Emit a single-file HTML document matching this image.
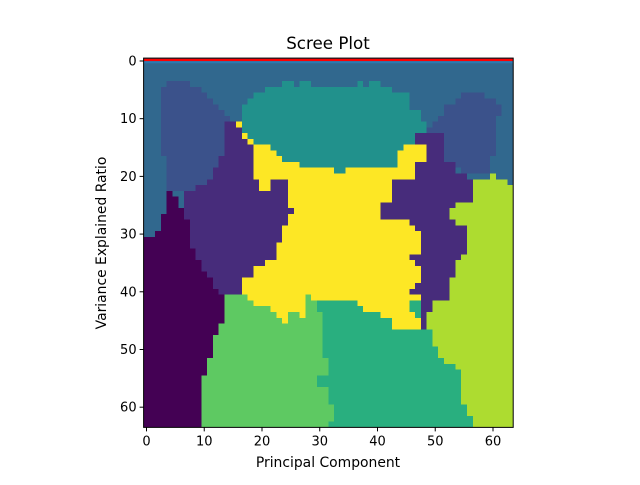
<!DOCTYPE html>
<html><head><meta charset="utf-8"><style>
body{margin:0;background:#fff}
svg text{font-family:"DejaVu Sans","Liberation Sans",sans-serif;fill:#000}
</style></head><body>
<svg id="chart" width="640" height="480" xmlns="http://www.w3.org/2000/svg">
<rect width="640" height="480" fill="#fff"/>
<g id="regions"></g>
<g id="axes"></g>
<text x="328" y="49" font-size="16.7" text-anchor="middle">Scree Plot</text>
<text x="328" y="467" font-size="13.9" text-anchor="middle">Principal Component</text>
<text transform="translate(106,243) rotate(-90)" font-size="13.9" text-anchor="middle">Variance Explained Ratio</text>
</svg>
<script>
const nCols = 64, nRows = 64;
const xTicks = [0,10,20,30,40,50,60];
const yTicks = [0,10,20,30,40,50,60];
const regionNames = ["bg","blob-b-left","blob-b-right","region-g","region-l","region-c-left","region-c-right","region-d","region-y","region-t","region-z"];
const regionColors = ["#31688e","#3b528b","#3b528b","#29af7f","#5ec962","#472c7b","#472c7b","#440154","#fde725","#21918c","#addc30"];
const regionPolys = [
 [[0,0],[64,0],[64,64],[0,64]],
 [[4,4],[8,4],[8,5],[10,5],[10,6],[11,6],[11,7],[12,7],[12,8],[13,8],[13,9],[14,9],[14,10],[15,10],[15,11],[16,11],[16,12],[14,22],[11,23],[4,23],[4,17],[3,17],[3,5],[4,5]],
 [[55,6],[59,6],[59,7],[61,7],[61,8],[62,8],[62,10],[61,10],[61,17],[60,17],[60,20],[55,20],[55,19],[54,19],[54,18],[52,18],[52,13],[49,13],[49,12],[50,12],[50,11],[51,11],[51,10],[52,10],[52,8],[54,8],[54,7],[55,7]],
 [[28,41],[58,41],[58,64],[28,64]],
 [[9,38],[31,38],[31,42],[30,42],[30,44],[31,44],[31,52],[32,52],[32,55],[30,55],[30,57],[32,57],[32,60],[33,60],[33,63],[32,63],[32,64],[9,64]],
 [[14,11],[20,11],[26,20],[26,41],[7,41],[7,23],[9,23],[9,22],[11,22],[11,21],[12,21],[12,19],[13,19],[13,17],[14,17]],
 [[47,13],[52,13],[52,18],[54,18],[54,20],[56,20],[56,21],[58,21],[58,47],[48,47],[48,42],[41,42],[41,18],[47,18]],
 [[4,23],[5,23],[5,24],[6,24],[6,26],[7,26],[7,28],[8,28],[8,33],[9,33],[9,35],[10,35],[10,37],[11,37],[11,38],[12,38],[12,40],[13,40],[13,41],[14,41],[14,46],[13,46],[13,48],[12,48],[12,52],[11,52],[11,55],[10,55],[10,64],[0,64],[0,31],[2,31],[2,30],[3,30],[3,27],[4,27]],
 [[16,11],[47,11],[47,14],[46,14],[46,15],[49,15],[49,18],[47,18],[47,21],[43,21],[43,25],[41,25],[41,28],[46,28],[46,29],[47,29],[47,30],[48,30],[48,34],[46,34],[46,35],[47,35],[47,36],[48,36],[48,39],[47,39],[47,40],[46,40],[46,41],[48,41],[48,42],[46,42],[46,44],[47,44],[47,45],[48,45],[48,47],[43,47],[43,45],[41,45],[41,44],[38,44],[38,43],[37,43],[37,42],[29,42],[29,41],[28,41],[28,45],[27,45],[27,44],[25,44],[25,46],[24,46],[24,45],[23,45],[23,44],[22,44],[22,43],[19,43],[19,42],[18,42],[18,41],[17,41],[17,38],[19,38],[19,36],[21,36],[21,35],[23,35],[23,32],[24,32],[24,29],[25,29],[25,27],[26,27],[26,26],[25,26],[25,21],[22,21],[22,23],[20,23],[20,21],[19,21],[19,15],[18,15],[18,14],[17,14],[17,12],[16,12]],
 [[21,5],[24,5],[24,4],[26,4],[26,5],[27,5],[27,4],[29,4],[29,5],[37,5],[37,4],[38,4],[38,5],[39,5],[39,4],[41,4],[41,5],[43,5],[43,6],[46,6],[46,9],[48,9],[48,11],[49,11],[49,13],[48,13],[47,13],[47,15],[45,15],[45,16],[44,16],[44,19],[35,19],[35,20],[33,20],[33,19],[27,19],[27,18],[24,18],[24,17],[23,17],[23,16],[22,16],[22,15],[19,15],[19,14],[18,14],[18,13],[17,13],[17,8],[18,8],[18,7],[19,7],[19,6],[21,6]],
 [[57,21],[60,21],[60,20],[61,20],[61,21],[63,21],[63,22],[64,22],[64,64],[57,64],[57,62],[56,62],[56,60],[55,60],[55,54],[54,54],[54,53],[52,53],[52,52],[51,52],[51,50],[50,50],[50,47],[49,47],[49,44],[50,44],[50,42],[53,42],[53,38],[54,38],[54,35],[55,35],[55,34],[56,34],[56,29],[54,29],[54,28],[53,28],[53,26],[54,26],[54,25],[57,25]]
];
const X0=143.6, CW=5.775, Y0=58.1, RH=5.77;
function xs(e){return X0+CW*e;}
function ys(e){return Y0+RH*e;}
const NS="http://www.w3.org/2000/svg";
const rg=document.getElementById('regions');
regionPolys.forEach((poly,i)=>{
  const p=document.createElementNS(NS,'polygon');
  p.setAttribute('points',poly.map(q=>xs(q[0]).toFixed(2)+','+ys(q[1]).toFixed(2)).join(' '));
  p.setAttribute('fill',regionColors[i]);
  p.setAttribute('shape-rendering','crispEdges');
  
  
  rg.appendChild(p);
});
const s2=document.createElementNS(NS,'rect');
s2.setAttribute('x',xs(0));s2.setAttribute('y',ys(0)+2.7);s2.setAttribute('width',CW*nCols);s2.setAttribute('height',2.5);s2.setAttribute('fill','#2a7ab2');


rg.appendChild(s2);
const s1=document.createElementNS(NS,'rect');
s1.setAttribute('x',xs(0));s1.setAttribute('y',ys(0)+0.6);s1.setAttribute('width',CW*nCols);s1.setAttribute('height',2.4);s1.setAttribute('fill','#ff0000');


rg.appendChild(s1);
const ax=document.getElementById('axes');
const fr=document.createElementNS(NS,'rect');
fr.setAttribute('x',xs(0));fr.setAttribute('y',ys(0));fr.setAttribute('width',CW*nCols);fr.setAttribute('height',RH*nRows);
fr.setAttribute('fill','none');fr.setAttribute('stroke','#000');fr.setAttribute('stroke-width','1');


ax.appendChild(fr);
xTicks.forEach(v=>{
  const x=xs(v+0.5), yb=ys(nRows);
  const l=document.createElementNS(NS,'line');
  l.setAttribute('x1',x);l.setAttribute('x2',x);l.setAttribute('y1',yb);l.setAttribute('y2',yb+4);l.setAttribute('stroke','#000');
  
  
  ax.appendChild(l);
  const t=document.createElementNS(NS,'text');
  t.setAttribute('x',x);t.setAttribute('y',yb+18);t.setAttribute('font-size','13');t.setAttribute('text-anchor','middle');
  t.textContent=v;
  
  
  ax.appendChild(t);
});
yTicks.forEach(v=>{
  const y=ys(v+0.5), xl=xs(0);
  const l=document.createElementNS(NS,'line');
  l.setAttribute('x1',xl-4);l.setAttribute('x2',xl);l.setAttribute('y1',y);l.setAttribute('y2',y);l.setAttribute('stroke','#000');
  
  
  ax.appendChild(l);
  const t=document.createElementNS(NS,'text');
  t.setAttribute('x',xl-7);t.setAttribute('y',y+4.5);t.setAttribute('font-size','13');t.setAttribute('text-anchor','end');
  t.textContent=v;
  
  
  ax.appendChild(t);
});
</script>
</body></html>
